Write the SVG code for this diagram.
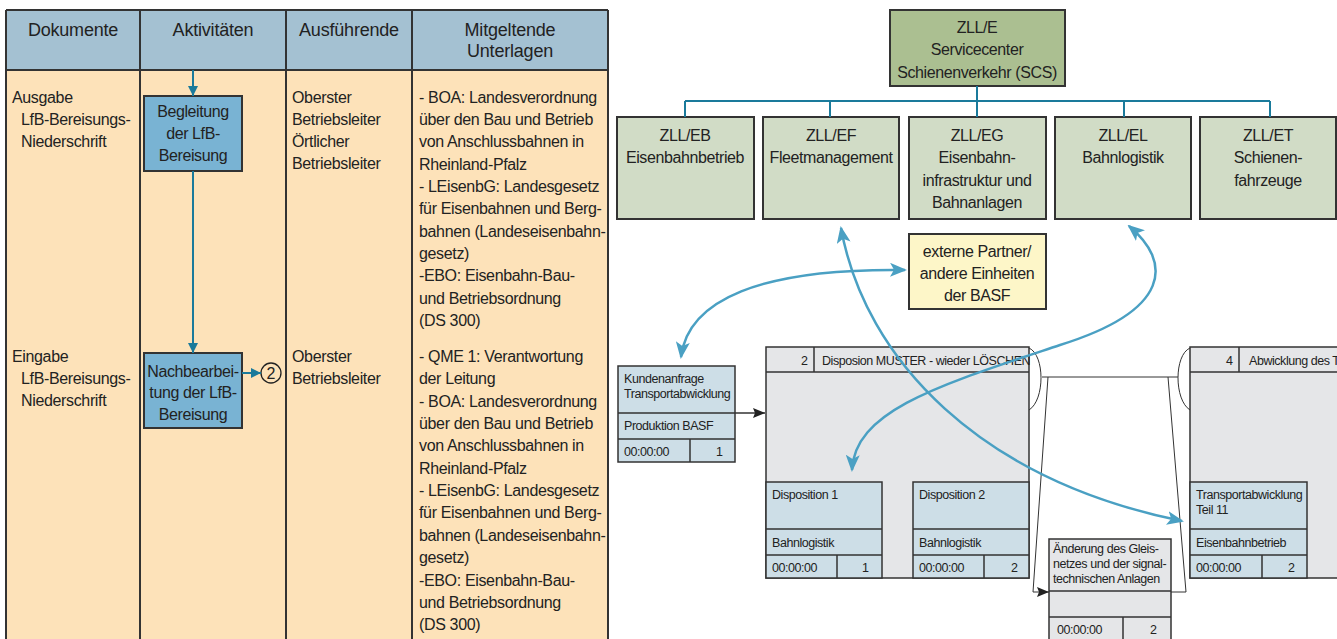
<svg xmlns="http://www.w3.org/2000/svg" width="1337" height="639" viewBox="0 0 1337 639">
<style>
text{font-family:"Liberation Sans",Arial,sans-serif;fill:#222}
.h{font-size:18px;text-anchor:middle;letter-spacing:-0.2px}
.b{font-size:16px;letter-spacing:-0.35px}
.o{font-size:16px;text-anchor:middle;letter-spacing:-0.4px}
.s{font-size:12.5px;letter-spacing:-0.45px}
.se{font-size:12.5px;text-anchor:end}
.grid{stroke:#333;stroke-width:2;fill:none}
.act{fill:#79b3d3;stroke:#333;stroke-width:2}
.teal{stroke:#1a7a9b;stroke-width:2;fill:none}
.org{fill:#d1dcc6;stroke:#333;stroke-width:2}
.pb{fill:#cddee7;stroke:#333;stroke-width:1.5}
.pg{fill:#e5e6e8;stroke:#333;stroke-width:1.5}
.ln{stroke:#333;stroke-width:1.5;fill:none}
.thin{stroke:#333;stroke-width:1;fill:none}
.cur{stroke:#4aa0c3;stroke-width:2.5;fill:none;marker-start:url(#ba);marker-end:url(#ba)}
</style>
<defs>
<marker id="ta" markerUnits="userSpaceOnUse" markerWidth="10" markerHeight="10" viewBox="0 0 10 10" refX="10" refY="5" orient="auto"><path d="M0 0L10 5L0 10z" fill="#1a7a9b"/></marker>
<marker id="ka" markerUnits="userSpaceOnUse" markerWidth="12" markerHeight="10" viewBox="0 0 12 10" refX="12" refY="5" orient="auto"><path d="M0 0L12 5L0 10L2 5z" fill="#222"/></marker>
<marker id="ba" markerUnits="userSpaceOnUse" markerWidth="17" markerHeight="14" viewBox="0 0 17 14" refX="15" refY="7" orient="auto-start-reverse"><path d="M0 0L17 7L0 14L4 7z" fill="#4aa0c3"/></marker>
</defs>

<g id="table">
<rect x="6" y="10" width="602" height="60" fill="#a4c1d2"/>
<rect x="6" y="70" width="602" height="580" fill="#fde2b9"/>
<path class="grid" d="M6 10H608M6 70H608M6 10V645M140 10V645M286 10V645M412 10V645M608 10V645"/>
<text class="h" x="73" y="36">Dokumente</text>
<text class="h" x="213" y="36">Aktivitäten</text>
<text class="h" x="349" y="36">Ausführende</text>
<text class="h" x="510" y="36">Mitgeltende</text>
<text class="h" x="510" y="57">Unterlagen</text>
<text class="b" x="12" y="103">Ausgabe</text>
<text class="b" x="21" y="125">LfB-Bereisungs-</text>
<text class="b" x="21" y="147">Niederschrift</text>
<text class="b" x="12" y="362">Eingabe</text>
<text class="b" x="21" y="384">LfB-Bereisungs-</text>
<text class="b" x="21" y="406">Niederschrift</text>
<text class="b" x="292" y="103">Oberster</text>
<text class="b" x="292" y="125">Betriebsleiter</text>
<text class="b" x="292" y="147">Örtlicher</text>
<text class="b" x="292" y="169">Betriebsleiter</text>
<text class="b" x="292" y="362">Oberster</text>
<text class="b" x="292" y="384">Betriebsleiter</text>
<text class="b" x="419" y="103">- BOA: Landesverordnung</text>
<text class="b" x="419" y="125">über den Bau und Betrieb</text>
<text class="b" x="419" y="147">von Anschlussbahnen in</text>
<text class="b" x="419" y="170">Rheinland-Pfalz</text>
<text class="b" x="419" y="192">- LEisenbG: Landesgesetz</text>
<text class="b" x="419" y="214">für Eisenbahnen und Berg-</text>
<text class="b" x="419" y="237">bahnen (Landeseisenbahn-</text>
<text class="b" x="419" y="259">gesetz)</text>
<text class="b" x="419" y="281">-EBO: Eisenbahn-Bau-</text>
<text class="b" x="419" y="304">und Betriebsordnung</text>
<text class="b" x="419" y="326">(DS 300)</text>
<text class="b" x="419" y="362">- QME 1: Verantwortung</text>
<text class="b" x="419" y="384">der Leitung</text>
<text class="b" x="419" y="407">- BOA: Landesverordnung</text>
<text class="b" x="419" y="429">über den Bau und Betrieb</text>
<text class="b" x="419" y="451">von Anschlussbahnen in</text>
<text class="b" x="419" y="474">Rheinland-Pfalz</text>
<text class="b" x="419" y="496">- LEisenbG: Landesgesetz</text>
<text class="b" x="419" y="518">für Eisenbahnen und Berg-</text>
<text class="b" x="419" y="541">bahnen (Landeseisenbahn-</text>
<text class="b" x="419" y="563">gesetz)</text>
<text class="b" x="419" y="586">-EBO: Eisenbahn-Bau-</text>
<text class="b" x="419" y="608">und Betriebsordnung</text>
<text class="b" x="419" y="630">(DS 300)</text>
</g>

<g id="act1">
<rect class="act" x="144" y="96" width="98" height="75"/>
<text class="o" x="193" y="117">Begleitung</text>
<text class="o" x="193" y="139">der LfB-</text>
<text class="o" x="193" y="161">Bereisung</text>
</g>
<g id="act2">
<rect class="act" x="144" y="353" width="98" height="75"/>
<text class="o" x="193" y="377">Nachbearbei-</text>
<text class="o" x="193" y="398">tung der LfB-</text>
<text class="o" x="193" y="420">Bereisung</text>
</g>
<g id="ref2">
<circle cx="271" cy="373" r="10" fill="none" stroke="#222" stroke-width="1.3"/>
<text x="271" y="379" font-size="16" text-anchor="middle">2</text>
</g>

<g id="zlle">
<rect x="890" y="10" width="175" height="76" fill="#abbf91" stroke="#333" stroke-width="2"/>
<text class="o" x="977" y="33">ZLL/E</text>
<text class="o" x="977" y="55">Servicecenter</text>
<text class="o" x="977" y="78">Schienenverkehr (SCS)</text>
</g>
<g id="zlleb"><rect class="org" x="617" y="117" width="137" height="102"/>
<text class="o" x="685" y="141">ZLL/EB</text><text class="o" x="685" y="163">Eisenbahnbetrieb</text></g>
<g id="zllef"><rect class="org" x="763" y="117" width="136" height="102"/>
<text class="o" x="831" y="141">ZLL/EF</text><text class="o" x="831" y="163">Fleetmanagement</text></g>
<g id="zlleg"><rect class="org" x="909" y="117" width="137" height="102"/>
<text class="o" x="977" y="141">ZLL/EG</text><text class="o" x="977" y="163">Eisenbahn-</text><text class="o" x="977" y="186">infrastruktur und</text><text class="o" x="977" y="208">Bahnanlagen</text></g>
<g id="zllel"><rect class="org" x="1055" y="117" width="136" height="102"/>
<text class="o" x="1123" y="141">ZLL/EL</text><text class="o" x="1123" y="163">Bahnlogistik</text></g>
<g id="zllet"><rect class="org" x="1200" y="117" width="136" height="102"/>
<text class="o" x="1268" y="141">ZLL/ET</text><text class="o" x="1268" y="163">Schienen-</text><text class="o" x="1268" y="186">fahrzeuge</text></g>

<g id="extern">
<rect x="909" y="234" width="137" height="75" fill="#fdf6c8" stroke="#333" stroke-width="2"/>
<text class="o" x="977" y="257">externe Partner/</text>
<text class="o" x="977" y="279">andere Einheiten</text>
<text class="o" x="977" y="301">der BASF</text>
</g>

<g id="kunden">
<rect class="pb" x="618" y="366" width="117" height="96"/>
<path class="ln" d="M618 413H735M618 439H735M690 439V462"/>
<text class="s" x="624" y="383">Kundenanfrage</text>
<text class="s" x="624" y="398">Transportabwicklung</text>
<text class="s" x="624" y="430">Produktion BASF</text>
<text class="s" x="624" y="456">00:00:00</text>
<text class="se" x="723" y="456">1</text>
</g>

<g id="box2">
<rect class="pg" x="766" y="347" width="263" height="231"/>
<path class="ln" d="M766 372H1029M814 347V372"/>
<text class="se" x="808" y="365">2</text>
<text class="s" x="822" y="365">Disposion MUSTER - wieder LÖSCHEN</text>
</g>
<g id="disp1">
<rect class="pb" x="766" y="482" width="116" height="96"/>
<path class="ln" d="M766 529H882M766 555H882M837 555V578"/>
<text class="s" x="772" y="499">Disposition 1</text>
<text class="s" x="772" y="547">Bahnlogistik</text>
<text class="s" x="772" y="572">00:00:00</text>
<text class="se" x="869" y="572">1</text>
</g>
<g id="disp2">
<rect class="pb" x="913" y="482" width="116" height="96"/>
<path class="ln" d="M913 529H1029M913 555H1029M984 555V578"/>
<text class="s" x="919" y="499">Disposition 2</text>
<text class="s" x="919" y="547">Bahnlogistik</text>
<text class="s" x="919" y="572">00:00:00</text>
<text class="se" x="1018" y="572">2</text>
</g>

<g id="box4">
<rect class="pg" x="1190" y="347" width="160" height="231"/>
<path class="ln" d="M1190 372H1350M1239 347V372"/>
<text class="se" x="1233" y="365">4</text>
<text class="s" x="1249" y="365">Abwicklung des T</text>
</g>
<g id="transport">
<rect class="pb" x="1190" y="482" width="117" height="96"/>
<path class="ln" d="M1190 529H1307M1190 555H1307M1262 555V578"/>
<text class="s" x="1196" y="499">Transportabwicklung</text>
<text class="s" x="1196" y="514">Teil 11</text>
<text class="s" x="1196" y="547">Eisenbahnbetrieb</text>
<text class="s" x="1196" y="572">00:00:00</text>
<text class="se" x="1295" y="572">2</text>
</g>

<g id="aenderung">
<rect class="pg" x="1049" y="539" width="122" height="110"/>
<path class="ln" d="M1049 591H1171M1049 617H1171M1123 617V645"/>
<text class="s" x="1053" y="553">Änderung des Gleis-</text>
<text class="s" x="1053" y="568">netzes und der signal-</text>
<text class="s" x="1053" y="583">technischen Anlagen</text>
<text class="s" x="1057" y="634">00:00:00</text>
<text class="se" x="1157" y="634">2</text>
</g>

<g id="connectors">
<path class="teal" d="M193 70V96" marker-end="url(#ta)"/>
<path class="teal" d="M193 171V353" marker-end="url(#ta)"/>
<path class="teal" d="M242 373H261" marker-end="url(#ta)"/>
<path class="teal" d="M977 86V117M685 101H1270M685 101V117M830 101V117M1124 101V117M1270 101V117"/>
<path class="ln" d="M735 413H765" marker-end="url(#ka)"/>
<path class="thin" d="M1029 348C1045 355 1045 400 1029 410"/>
<path class="thin" d="M1190 348C1174 355 1174 400 1190 410"/>
<path class="thin" d="M1042 377H1178"/>
<path class="thin" d="M1048 377L1033 592H1049" marker-end="url(#ka)"/>
<path class="thin" d="M1168 377L1186 592H1171"/>
<path class="cur" d="M681 357C688 300 760 268 905 270"/>
<path class="cur" d="M841 228C865 360 980 480 1182 521"/>
<path class="cur" d="M1129 226C1172 262 1172 310 1060 345C940 385 855 410 852 470"/>
</g>
</svg>
